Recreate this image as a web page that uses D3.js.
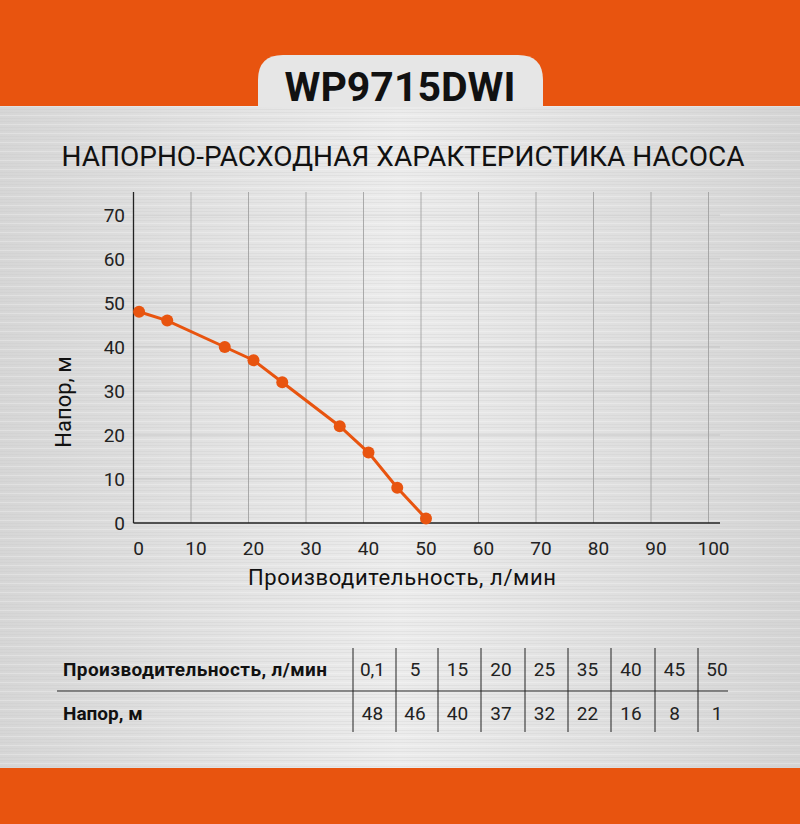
<!DOCTYPE html>
<html><head><meta charset="utf-8">
<script src="https://cdn.jsdelivr.net/npm/d3@7"></script>
<style>body{margin:0;} svg{display:block;font-family:Roboto,"Liberation Sans",sans-serif;}</style>
</head><body><div id="chart"></div>
<script>
var flow = [0.1, 5, 15, 20, 25, 35, 40, 45, 50];
var head = [48, 46, 40, 37, 32, 22, 16, 8, 1];
var flowLabels = ["0,1", "5", "15", "20", "25", "35", "40", "45", "50"];
var xTicks = [0, 10, 20, 30, 40, 50, 60, 70, 80, 90, 100];
var yTicks = [0, 10, 20, 30, 40, 50, 60, 70];
var orange = "#e8540f";

var W = 800, H = 824;
var svg = d3.select("#chart").append("svg").attr("width", W).attr("height", H);

//brushed metal background
var defs = svg.append("defs");
var grad = defs.append("linearGradient").attr("id", "bg").attr("x1", 0).attr("x2", 1);
grad.append("stop").attr("offset", "0").attr("stop-color", "#d6d6d6");
grad.append("stop").attr("offset", "0.5").attr("stop-color", "#ececec");
grad.append("stop").attr("offset", "1").attr("stop-color", "#d4d4d4");
svg.append("rect").attr("width", W).attr("height", H).attr("fill", "url(#bg)");
d3.range(106, 770, 3).forEach(function(y, i) {
    svg.append("rect").attr("x", 0).attr("y", y).attr("width", W).attr("height", 1)
        .attr("fill", (i % 3 == 0) ? "#ffffff" : "#c8c8c8").attr("opacity", 0.25);
});

//orange bands and tab
svg.append("rect").attr("width", W).attr("height", 106).attr("fill", orange);
svg.append("rect").attr("y", 768).attr("width", W).attr("height", 56).attr("fill", orange);
svg.append("path").attr("d", "M258,107 L258,80 Q258,55 283,55 L518,55 Q543,55 543,80 L543,107 Z").attr("fill", "#e6e6e6");
svg.append("text").attr("x", 400).attr("y", 101).attr("text-anchor", "middle")
    .attr("font-size", 41).attr("font-weight", "bold").attr("fill", "#111").text("WP9715DWI");
svg.append("text").attr("x", 403).attr("y", 166).attr("text-anchor", "middle")
    .attr("font-size", 28).attr("fill", "#111").attr("textLength", 683).text("НАПОРНО-РАСХОДНАЯ ХАРАКТЕРИСТИКА НАСОСА");

var x = d3.scaleLinear().domain([0, 100]).range([133.5, 708.5]);
var y = d3.scaleLinear().domain([0, 70]).range([523, 215]);

var g = svg.append("g");
xTicks.forEach(function(t) {
    if (t > 0) g.append("line").attr("x1", x(t)).attr("x2", x(t)).attr("y1", 192).attr("y2", 523).attr("stroke", "#999").attr("stroke-width", 0.8);
});
yTicks.forEach(function(t) {
    if (t > 0) g.append("line").attr("x1", 133.5).attr("x2", 720).attr("y1", y(t)).attr("y2", y(t)).attr("stroke", "#aaa").attr("stroke-width", 0.6).attr("opacity", 0.6);
});
g.append("line").attr("x1", 133.5).attr("x2", 133.5).attr("y1", 192).attr("y2", 523).attr("stroke", "#222").attr("stroke-width", 1.3);
g.append("line").attr("x1", 133.5).attr("x2", 720).attr("y1", 523).attr("y2", 523).attr("stroke", "#222").attr("stroke-width", 1.3);

g.selectAll(".xt").data(xTicks).enter().append("text").attr("x", function(d) { return x(d) + 5; }).attr("y", 555)
    .attr("text-anchor", "middle").attr("font-size", 19).attr("fill", "#222").text(function(d) { return d; });
g.selectAll(".yt").data(yTicks).enter().append("text").attr("x", 125).attr("y", function(d) { return y(d) + 7; })
    .attr("text-anchor", "end").attr("font-size", 19).attr("fill", "#222").text(function(d) { return d; });
svg.append("text").attr("x", 402).attr("y", 585).attr("text-anchor", "middle").attr("font-size", 22).attr("fill", "#111")
    .attr("textLength", 308).text("Производительность, л/мин");
svg.append("text").attr("transform", "translate(71,402) rotate(-90)").attr("text-anchor", "middle").attr("font-size", 22).attr("fill", "#111")
    .text("Напор, м");

var pts = flow.map(function(f, i) { return [x(f) + 5, y(head[i])]; });
g.append("path").attr("d", d3.line()(pts)).attr("fill", "none").attr("stroke", orange).attr("stroke-width", 3);
g.selectAll(".pt").data(pts).enter().append("circle").attr("cx", function(d) { return d[0]; }).attr("cy", function(d) { return d[1]; })
    .attr("r", 6).attr("fill", orange);

//table
var t = svg.append("g");
var colX = [353, 396, 438, 481, 525, 568, 611, 655, 698, 740];
t.append("line").attr("x1", 57).attr("x2", 728).attr("y1", 691).attr("y2", 691).attr("stroke", "#222").attr("stroke-width", 1.2);
colX.slice(0, 9).forEach(function(cx) {
    t.append("line").attr("x1", cx).attr("x2", cx).attr("y1", 648).attr("y2", 732).attr("stroke", "#222").attr("stroke-width", 1);
});
t.append("text").attr("x", 63).attr("y", 676).attr("font-size", 19).attr("font-weight", "bold").attr("fill", "#111")
    .attr("textLength", 264).text("Производительность, л/мин");
t.append("text").attr("x", 63).attr("y", 720).attr("font-size", 19).attr("font-weight", "bold").attr("fill", "#111").text("Напор, м");
flowLabels.forEach(function(l, i) {
    var cx = (colX[i] + colX[i + 1]) / 2 - 2;
    t.append("text").attr("x", cx).attr("y", 676).attr("text-anchor", "middle").attr("font-size", 19).attr("fill", "#222").text(l);
    t.append("text").attr("x", cx).attr("y", 720).attr("text-anchor", "middle").attr("font-size", 19).attr("fill", "#222").text(head[i]);
});
</script></body></html>
